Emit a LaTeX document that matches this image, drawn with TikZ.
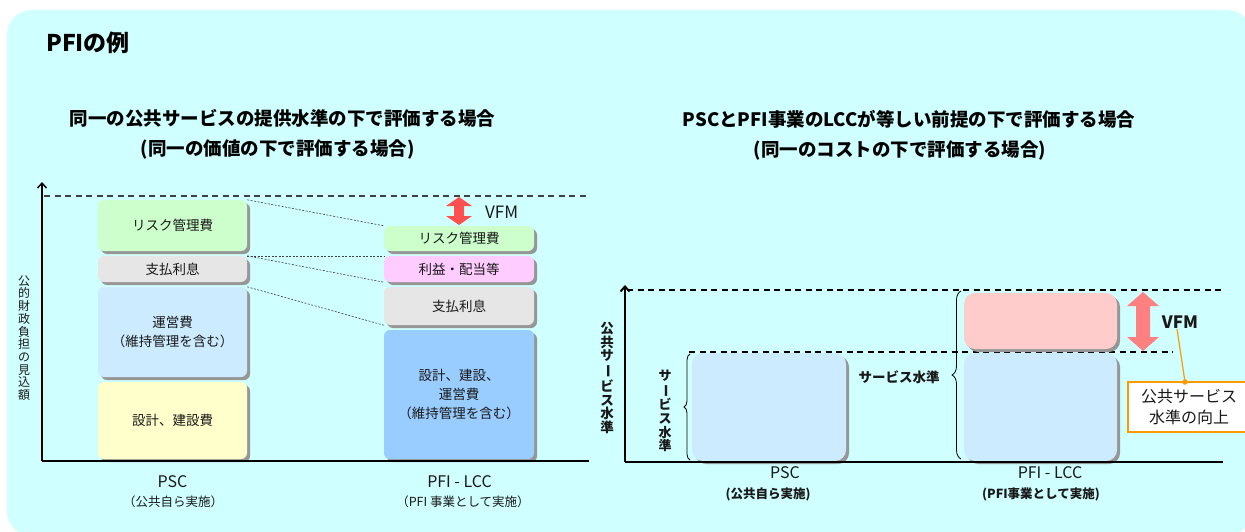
\documentclass[tikz,border=0pt]{standalone}
\usepackage{fontspec}
\usepackage{graphicx}
\setmainfont{Noto Sans CJK JP}
\usetikzlibrary{arrows.meta,shadows,decorations.pathreplacing}
\definecolor{bgc}{RGB}{208,255,255}
\definecolor{cgreen}{RGB}{204,255,204}
\definecolor{cgray}{RGB}{230,230,230}
\definecolor{clblue}{RGB}{204,235,255}
\definecolor{cyellow}{RGB}{255,255,204}
\definecolor{cpink}{RGB}{255,204,255}
\definecolor{cblue}{RGB}{153,204,255}
\definecolor{crpink}{RGB}{255,204,204}
\definecolor{cshadow}{RGB}{150,150,150}
\definecolor{cred}{RGB}{255,80,80}
\definecolor{credb}{RGB}{255,128,128}
\definecolor{corange}{RGB}{255,153,0}
\definecolor{ctext}{RGB}{25,25,25}
\newcommand\vbar{\rotatebox[origin=c]{-90}{ー}}
\tikzset{
  bx/.style={rounded corners=6pt, inner sep=0pt, align=center, text=ctext,
    font=\fontsize{13.5}{19}\selectfont,
    drop shadow={shadow xshift=3pt, shadow yshift=-3pt, fill=cshadow, opacity=1}},
  rbx/.style={bx, rounded corners=11pt},
  dotl/.style={line width=0.6pt, draw=black!75, dash pattern=on 2pt off 1.5pt},
  ttl/.style={font=\fontsize{18.5}{22}\selectfont\bfseries, inner sep=0pt},
  dashl/.style={line width=1.3pt, dash pattern=on 6pt off 4.5pt},
  lbl/.style={inner sep=0pt, text=ctext},
  vlbl/.style={inner sep=0pt, align=center, text=ctext},
}
\begin{document}
\begin{tikzpicture}[x=1pt,y=-1pt]
\useasboundingbox (0,0) rectangle (1245,532);
\clip (0,0) rectangle (1245,532);
\fill[bgc, rounded corners=25pt] (7,10) rectangle (1252,536);

% titles
\node[anchor=west, inner sep=0pt, font=\fontsize{23}{26}\selectfont\bfseries] (title) at (46,43) {PFIの例};
\node[ttl] (t1) at (282.5,118) {同一の公共サービスの提供水準の下で評価する場合};
\node[ttl] (t2) at (277.5,149) {(同一の価値の下で評価する場合)};
\node[ttl] (t3) at (909,119) {PSCとPFI事業のLCCが等しい前提の下で評価する場合};
\node[ttl] (t4) at (900,150) {(同一のコストの下で評価する場合)};

% ---------- left chart ----------
\coordinate (lo) at (42,461);
\coordinate (ltop) at (42,182);
\coordinate (lxe) at (589,461);
\coordinate (ld1) at (44,196);
\coordinate (ld2) at (589,196);
\draw[dashl, black!75] (ld1) -- (ld2);
\draw[line width=1.4pt, -{Straight Barb[length=5pt,width=9pt]}] (lo) -- (ltop);

\node[bx, fill=cgreen, minimum width=149pt, minimum height=51pt] (p1) at (172.5,225.5) {リスク管理費};
\node[bx, fill=cgray, minimum width=149pt, minimum height=26pt] (p2) at (172.5,269) {支払利息};
\node[bx, fill=clblue, minimum width=149pt, minimum height=90pt] (p3) at (172.5,332) {運営費\\（維持管理を含む）};
\node[bx, fill=cyellow, minimum width=149pt, minimum height=77pt] (p4) at (172.5,420.5) {設計、建設費};

\node[bx, fill=cgreen, minimum width=150pt, minimum height=25pt] (q1) at (459,238.5) {リスク管理費};
\node[bx, fill=cpink, minimum width=150pt, minimum height=26pt] (q2) at (459,269) {利益・配当等};
\node[bx, fill=cgray, minimum width=150pt, minimum height=38pt] (q3) at (459,306) {支払利息};
\node[bx, fill=cblue, minimum width=150pt, minimum height=129pt] (q4) at (459,394.5) {設計、建設、\\運営費\\（維持管理を含む）};

\draw[line width=1.8pt] (lo) -- (lxe);

\draw[dotl] (p1.north east) -- (q1.north west);
\draw[dotl] (p2.north east) -- (q2.north west);
\draw[dotl] (p2.north east) -- (q2.south west);
\draw[dotl] (p3.north east) -- (q3.south west);

\fill[cred] (459,197) -- (472,206) -- (464,206) -- (464,216) -- (472,216) -- (459,225)
  -- (446,216) -- (454,216) -- (454,206) -- (446,206) -- cycle;
\node[lbl, anchor=west, font=\fontsize{17}{20}\selectfont] (lvfm) at (485,212) {VFM};

\node[vlbl, font=\fontsize{12}{12.7}\selectfont] (ly) at (24,338) {公\\的\\財\\政\\負\\担\\の\\見\\込\\額};

\node[lbl, font=\fontsize{16}{18}\selectfont] (lpsc) at (172.5,482) {PSC};
\node[lbl, font=\fontsize{12.5}{14}\selectfont] (lpsc2) at (173,502) {（公共自ら実施）};
\node[lbl, font=\fontsize{16}{18}\selectfont] (lpfi) at (459.5,482) {PFI - LCC};
\node[lbl, font=\fontsize{12.5}{14}\selectfont] (lpfi2) at (463,502) {（PFI 事業として実施）};

% ---------- right chart ----------
\coordinate (ro) at (625,462);
\coordinate (rtop) at (625,285);
\coordinate (rxe) at (1223,462);
\coordinate (rd1) at (627,290);
\coordinate (rd2) at (1221,290);
\coordinate (rm1) at (689,352);
\coordinate (rm2) at (1173,352);
\draw[dashl, black] (rd1) -- (rd2);
\draw[dashl, black] (rm1) -- (rm2);
\draw[line width=2pt, -{Straight Barb[length=5pt,width=9pt]}] (ro) -- (rtop);

\node[rbx, fill=clblue, minimum width=154pt, minimum height=108pt] (rp) at (769,407) {};
\node[rbx, fill=crpink, minimum width=153pt, minimum height=56pt] (rq1) at (1040.5,321) {};
\node[rbx, fill=clblue, minimum width=153pt, minimum height=108pt] (rq2) at (1040.5,407) {};

\draw[line width=2.6pt] (ro) -- (rxe);

\coordinate (b1a) at (690,460);
\coordinate (b1b) at (690,354);
\coordinate (b2a) at (961,459);
\coordinate (b2b) at (961,291);
\draw[decorate, decoration={brace, amplitude=6pt}, line width=0.8pt] (b1a) -- (b1b);
\draw[decorate, decoration={brace, amplitude=9pt}, line width=0.8pt] (b2a) -- (b2b);

\node[vlbl, font=\fontsize{13}{13.7}\selectfont\bfseries] (rsv) at (665,411) {サ\\\vbar\\ビ\\ス\\水\\準};
\node[lbl, font=\fontsize{13.5}{16}\selectfont\bfseries] (rsh) at (899,377) {サービス水準};
\node[vlbl, font=\fontsize{13.5}{13.9}\selectfont\bfseries] (ry) at (607,378) {公\\共\\サ\\\vbar\\ビ\\ス\\水\\準};

\fill[credb] (1143,292) -- (1159,306) -- (1150,306) -- (1150,337) -- (1159,337) -- (1143,351)
  -- (1127,337) -- (1136,337) -- (1136,306) -- (1127,306) -- cycle;
\node[lbl, font=\fontsize{17}{20}\selectfont\bfseries] (rvfm) at (1180,322) {VFM};

\node[draw=corange, line width=1.2pt, fill=white, minimum width=122pt, minimum height=50pt,
  align=center, inner sep=0pt, text=ctext, font=\fontsize{16}{21}\selectfont] (imp) at (1189,407) {公共サービス\\水準の向上};
\coordinate (oc1) at (1177,329);
\coordinate (oc2) at (1185,382);
\draw[corange, line width=1.2pt] (oc1) -- (oc2);
\fill[corange] (oc2) circle (2.8pt);

\node[lbl, font=\fontsize{16}{18}\selectfont] (rpsc) at (785,473) {PSC};
\node[lbl, font=\fontsize{12.5}{14}\selectfont\bfseries] (rpsc2) at (768,494) {(公共自ら実施)};
\node[lbl, font=\fontsize{16}{18}\selectfont] (rpfi) at (1050,473) {PFI - LCC};
\node[lbl, font=\fontsize{12.5}{14}\selectfont\bfseries] (rpfi2) at (1041,494) {(PFI事業として実施)};
\end{tikzpicture}
\end{document}
